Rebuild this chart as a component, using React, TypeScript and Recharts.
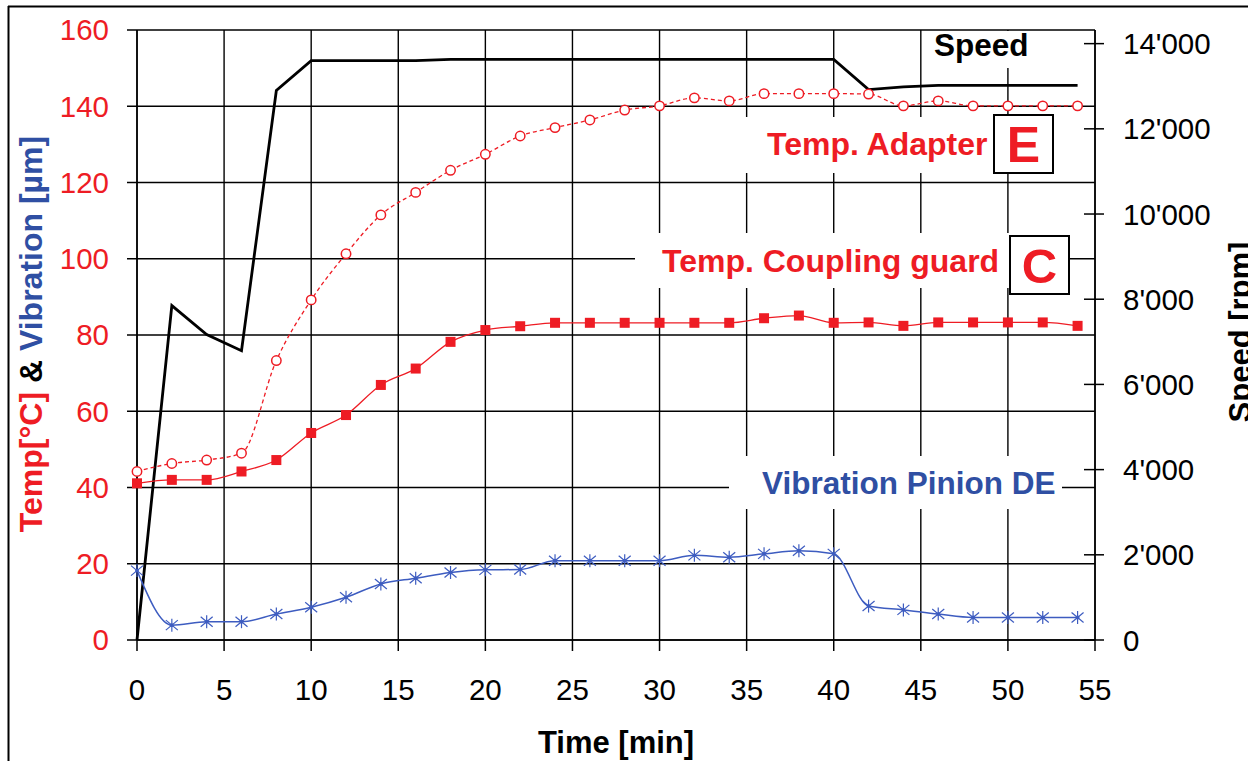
import { CartesianGrid, Line, LineChart, XAxis, YAxis } from "recharts";

const minutes = [
  0, 2, 4, 6, 8, 10, 12, 14, 16, 18, 20, 22, 24, 26, 28, 30, 32, 34, 36, 38, 40, 42, 44, 46, 48, 50, 52, 54,
];
const speedRpm = [
  0, 7850, 7170, 6790, 12900, 13600, 13600, 13600, 13600, 13630, 13630, 13630, 13630, 13630, 13630, 13630,
  13630, 13630, 13630, 13630, 13630, 12920, 12985, 13020, 13020, 13020, 13020, 13020,
];
const tempAdapter = [
  44.2, 46.3, 47.2, 49, 73.3, 89.2, 101.3, 111.5, 117.4, 123.2, 127.4, 132.2, 134.4, 136.4, 139, 140.1, 142.2,
  141.4, 143.3, 143.3, 143.3, 143.2, 140.1, 141.4, 140.1, 140.1, 140.1, 140.1,
];
const tempCoupling = [
  41.1, 42, 42, 44.2, 47.2, 54.3, 59, 66.9, 71.2, 78.2, 81.3, 82.3, 83.2, 83.2, 83.2, 83.2, 83.2, 83.2, 84.4,
  85.1, 83.2, 83.3, 82.4, 83.3, 83.3, 83.3, 83.3, 82.4,
];
const vibration = [
  18.2, 3.9, 4.8, 4.8, 6.8, 8.6, 11.2, 14.7, 16.2, 17.7, 18.4, 18.5, 20.8, 20.8, 20.8, 20.8, 22.2, 21.7, 22.6,
  23.4, 22.6, 8.9, 7.9, 6.8, 5.9, 5.9, 5.9, 5.9,
];
const timeTicks = [0, 5, 10, 15, 20, 25, 30, 35, 40, 45, 50, 55];
const tempTicks = [0, 20, 40, 60, 80, 100, 120, 140, 160];
const speedTicks = [0, 2000, 4000, 6000, 8000, 10000, 12000, 14000];

const RED = "#ee1c24";
const BLUE_LINE = "#3d5cc0";
const BLUE_TEXT = "#2f4fa3";
const FONT = "'Liberation Sans', Arial, sans-serif";

const data = minutes.map((t, i) => ({
  t,
  speed: speedRpm[i],
  adapter: tempAdapter[i],
  coupling: tempCoupling[i],
  vib: vibration[i],
}));

const fmtSpeed = (v: number) => (v >= 1000 ? `${Math.floor(v / 1000)}'${String(v % 1000).padStart(3, "0")}` : `${v}`);

function SpeedTick(props: any) {
  const { x, y, payload } = props;
  const axisX = x - 28;
  return (
    <g>
      <line x1={axisX - 11} x2={axisX + 9} y1={y} y2={y} stroke="#000" strokeWidth={1.5} />
      <text x={x} y={y} dy="0.36em" fill="#000" fontSize={29.5} fontFamily={FONT} textAnchor="start">
        {fmtSpeed(payload.value)}
      </text>
    </g>
  );
}

function CircleDot(props: any) {
  const { cx, cy, index } = props;
  if (cx == null || cy == null) return null;
  return <circle key={`c${index}`} cx={cx} cy={cy} r={4.7} fill="#fff" stroke={RED} strokeWidth={1.5} />;
}

function SquareDot(props: any) {
  const { cx, cy, index } = props;
  if (cx == null || cy == null) return null;
  return <rect key={`s${index}`} x={cx - 5} y={cy - 5} width={10} height={10} fill={RED} />;
}

function StarDot(props: any) {
  const { cx, cy, index } = props;
  if (cx == null || cy == null) return null;
  return (
    <g key={`a${index}`} stroke={BLUE_LINE} strokeWidth={1.2}>
      <line x1={cx} y1={cy - 6.5} x2={cx} y2={cy + 6.5} />
      <line x1={cx - 6} y1={cy - 5} x2={cx + 6} y2={cy + 5} />
      <line x1={cx - 6} y1={cy + 5} x2={cx + 6} y2={cy - 5} />
      <circle cx={cx} cy={cy} r={1.9} fill={BLUE_LINE} stroke="none" />
    </g>
  );
}

export default function App() {
  return (
    <div
      style={{
        position: "absolute",
        left: 0,
        top: 0,
        width: 1248,
        height: 761,
        overflow: "hidden",
        background: "#fff",
        fontFamily: FONT,
      }}
    >
      <LineChart width={1248} height={761} data={data} margin={{ top: 30, right: 33, bottom: 61, left: 57 }}>
        <CartesianGrid yAxisId="left" stroke="#000" strokeWidth={1.4} />
        <XAxis
          dataKey="t"
          type="number"
          domain={[0, 55]}
          ticks={timeTicks}
          height={60}
          tickSize={11}
          tickMargin={28}
          axisLine={{ stroke: "#000", strokeWidth: 1.5 }}
          tickLine={{ stroke: "#000", strokeWidth: 1.5 }}
          tick={{ fill: "#000", fontSize: 29.5, fontFamily: FONT }}
        />
        <YAxis
          yAxisId="left"
          domain={[0, 160]}
          ticks={tempTicks}
          width={80}
          tickSize={10}
          tickMargin={18}
          axisLine={{ stroke: "#000", strokeWidth: 1.5 }}
          tickLine={{ stroke: "#000", strokeWidth: 1.5 }}
          tick={{ fill: RED, fontSize: 29.5, fontFamily: FONT }}
        />
        <YAxis
          yAxisId="right"
          orientation="right"
          domain={[0, 14320]}
          ticks={speedTicks}
          width={120}
          tickSize={10}
          tickMargin={18}
          axisLine={{ stroke: "#000", strokeWidth: 1.5 }}
          tickLine={false}
          tick={<SpeedTick />}
        />
        <Line
          yAxisId="right"
          dataKey="speed"
          type="linear"
          stroke="#000"
          strokeWidth={2.8}
          dot={false}
          isAnimationActive={false}
        />
        <Line
          yAxisId="left"
          dataKey="adapter"
          type="monotone"
          stroke={RED}
          strokeWidth={1.3}
          strokeDasharray="4 3"
          dot={CircleDot}
          isAnimationActive={false}
        />
        <Line
          yAxisId="left"
          dataKey="coupling"
          type="monotone"
          stroke={RED}
          strokeWidth={1.3}
          dot={SquareDot}
          isAnimationActive={false}
        />
        <Line
          yAxisId="left"
          dataKey="vib"
          type="monotone"
          stroke={BLUE_LINE}
          strokeWidth={1.5}
          dot={StarDot}
          isAnimationActive={false}
        />
      </LineChart>

      {/* annotations, axis titles and frame drawn over the chart */}
      <svg
        width={1248}
        height={761}
        style={{ position: "absolute", left: 0, top: 0, pointerEvents: "none" }}
        fontFamily={FONT}
        fontWeight="bold"
      >
        <line x1={8.5} y1={6} x2={8.5} y2={761} stroke="#000" strokeWidth={2} />
        <line x1={8} y1={6.5} x2={1248} y2={6.5} stroke="#000" strokeWidth={2} />

        <rect x={933} y={31} width={115} height={37} fill="#fff" />
        <text x={934} y={56} fontSize={31.5} fill="#000">
          Speed
        </text>

        <rect x={735} y={117} width={258} height={56} fill="#fff" />
        <text x={767} y={155} fontSize={32} fill={RED}>
          Temp. Adapter
        </text>
        <rect x={994} y={115} width={59} height={58} fill="#fff" stroke="#000" strokeWidth={2} />
        <text x={1023.5} y={162} fontSize={50} fill={RED} textAnchor="middle">
          E
        </text>

        <rect x={635} y={233} width={374} height={55} fill="#fff" />
        <text x={662} y={272} fontSize={32} fill={RED}>
          Temp. Coupling guard
        </text>
        <rect x={1010} y={236} width={59} height={58} fill="#fff" stroke="#000" strokeWidth={2} />
        <text x={1039.5} y={283} fontSize={49} fill={RED} textAnchor="middle">
          C
        </text>

        <rect x={729} y={456} width={333} height={53} fill="#fff" />
        <text x={762} y={494} fontSize={31.5} fill={BLUE_TEXT}>
          Vibration Pinion DE
        </text>

        <text x={616} y={753} fontSize={31} fill="#000" textAnchor="middle">
          Time [min]
        </text>
        <text transform="translate(42 334) rotate(-90)" fontSize={32} textAnchor="middle">
          <tspan fill={RED}>Temp[°C]</tspan>
          <tspan fill="#000"> &amp; </tspan>
          <tspan fill={BLUE_TEXT}>Vibration [µm]</tspan>
        </text>
        <text transform="translate(1251 332) rotate(-90)" fontSize={31} textAnchor="middle" fill="#000">
          Speed [rpm]
        </text>
      </svg>
    </div>
  );
}
